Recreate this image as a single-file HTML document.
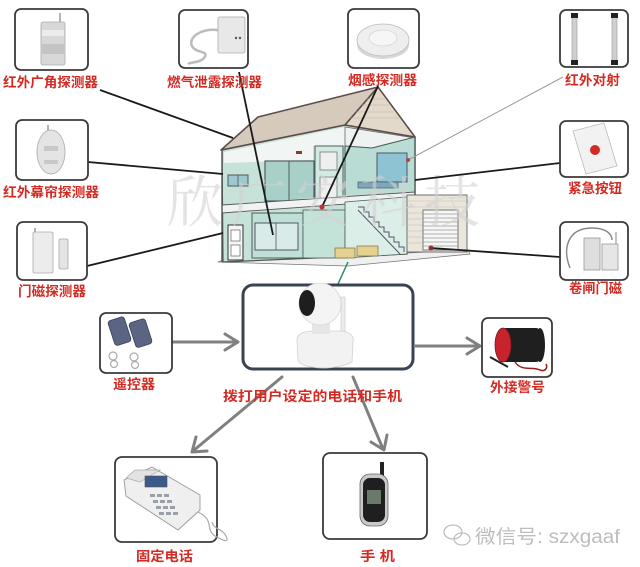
<!DOCTYPE html>
<html><head><meta charset="utf-8"><style>
html,body{margin:0;padding:0;background:#fff;}
svg{display:block;}
.lbl{font-family:"Liberation Sans","Noto Sans CJK SC",sans-serif;font-weight:bold;fill:#d42a22;font-size:13.5px;}
.box{fill:#fff;stroke:#3a3a3a;stroke-width:1.8;}
.ln{stroke:#1a1a1a;stroke-width:1.8;fill:none;}
.ar{stroke:#808080;stroke-width:3;fill:none;stroke-linecap:round;stroke-linejoin:round;}
</style></head><body>
<svg width="640" height="567" viewBox="0 0 640 567" xmlns="http://www.w3.org/2000/svg">
<rect width="640" height="567" fill="#fff"/>

<!-- ========== HOUSE ========== -->
<!-- ground -->
<polygon points="218,262 348,266 470,254 468,250 407,253 223,260" fill="#eef1f0" stroke="#777" stroke-width="0.8"/>
<!-- main body -->
<polygon points="222,150 345,125 415,137 415,195 407,195 407,254 223,262" fill="#c6e2d9" stroke="#4d5555" stroke-width="1.2"/>
<!-- under roof white area -->
<polygon points="224,152 345,127 345,146 313,146 313,160 224,163" fill="#f1f5f3"/>
<polygon points="345,127 415,138 372,148 345,146" fill="#eef2f0" stroke="#666" stroke-width="0.8"/>
<!-- upper left window -->
<rect x="228" y="175" width="20" height="11" fill="#9cc8d0" stroke="#4d5a5a" stroke-width="1"/>
<line x1="238" y1="175" x2="238" y2="186" stroke="#4d5a5a" stroke-width="0.8"/>
<!-- sliding doors -->
<rect x="265" y="161" width="49" height="40" fill="#a9cfc9" stroke="#4f6060" stroke-width="1.2"/>
<line x1="289" y1="161" x2="289" y2="201" stroke="#4f6060" stroke-width="1"/>
<rect x="296" y="151" width="6" height="3" fill="#8a3a30"/>
<!-- upper door -->
<rect x="315" y="146" width="28" height="57" fill="#d1ebe3" stroke="#4f5b5b" stroke-width="1"/>
<rect x="320" y="152" width="17" height="18" fill="#eef0ef" stroke="#777" stroke-width="0.8"/>
<rect x="320" y="177" width="17" height="21" fill="#eef0ef" stroke="#777" stroke-width="0.8"/>
<!-- right upper room -->
<polygon points="345,146 372,148 415,137 415,195 345,199" fill="#b9ddd4" stroke="#4f5b5b" stroke-width="1"/>
<rect x="377" y="153" width="30" height="29" fill="#8dc3d2" stroke="#4a5a66" stroke-width="1"/>
<rect x="358" y="182" width="40" height="6" fill="#7fa7b8" stroke="#4a5a66" stroke-width="0.7"/>
<!-- slab -->
<polygon points="222,205 415,192 415,199 222,213" fill="#f0f3f2" stroke="#555" stroke-width="0.9"/>
<!-- ground floor -->
<rect x="252" y="213" width="51" height="45" fill="#bfe0d6" stroke="#4f5b5b" stroke-width="1"/>
<rect x="255" y="223" width="43" height="27" fill="#d9ebe8" stroke="#556" stroke-width="1"/>
<line x1="276" y1="223" x2="276" y2="250" stroke="#556" stroke-width="0.8"/>
<rect x="303" y="210" width="42" height="48" fill="#c3e3d9" stroke="#4f5b5b" stroke-width="0.8"/>
<rect x="228" y="225" width="15" height="35" fill="#f5f5f5" stroke="#333" stroke-width="1"/>
<rect x="231" y="230" width="9" height="11" fill="#fff" stroke="#666" stroke-width="0.7"/>
<rect x="231" y="245" width="9" height="11" fill="#fff" stroke="#666" stroke-width="0.7"/>
<!-- stair area -->
<polygon points="345,202 407,197 407,254 345,258" fill="#dbeee8" stroke="#4f5b5b" stroke-width="0.8"/>
<polyline points="358,207 364,207 364,212 369,212 369,217 374,217 374,222 379,222 379,227 384,227 384,232 389,232 389,237 394,237 394,242 399,242 399,247 404,247 404,252" fill="none" stroke="#556" stroke-width="1"/>
<line x1="358" y1="210" x2="400" y2="254" stroke="#556" stroke-width="1"/>
<!-- garage -->
<rect x="407" y="195" width="60" height="57" fill="#ebe6dc" stroke="#6d6d6d" stroke-width="1"/>
<g stroke="#c9c2b3" stroke-width="0.6">
<line x1="407" y1="201" x2="467" y2="201"/><line x1="407" y1="207" x2="467" y2="207"/>
<line x1="407" y1="213" x2="423" y2="213"/><line x1="407" y1="219" x2="423" y2="219"/>
<line x1="407" y1="225" x2="423" y2="225"/><line x1="407" y1="231" x2="423" y2="231"/>
<line x1="407" y1="237" x2="423" y2="237"/><line x1="407" y1="243" x2="423" y2="243"/>
</g>
<rect x="423" y="210" width="35" height="40" fill="#f6f6f6" stroke="#777" stroke-width="1"/>
<g stroke="#999" stroke-width="0.8">
<line x1="423" y1="214" x2="458" y2="214"/><line x1="423" y1="218" x2="458" y2="218"/>
<line x1="423" y1="222" x2="458" y2="222"/><line x1="423" y1="226" x2="458" y2="226"/>
<line x1="423" y1="230" x2="458" y2="230"/><line x1="423" y1="234" x2="458" y2="234"/>
<line x1="423" y1="238" x2="458" y2="238"/><line x1="423" y1="242" x2="458" y2="242"/>
<line x1="423" y1="246" x2="458" y2="246"/>
</g>
<!-- sofas -->
<rect x="335" y="248" width="20" height="10" fill="#e3d28f" stroke="#8a7a40" stroke-width="0.8"/>
<rect x="357" y="246" width="21" height="10" fill="#e3d28f" stroke="#8a7a40" stroke-width="0.8"/>
<!-- roof -->
<polygon points="221,150 258,117 378,87 345,125" fill="#d5cabb" stroke="#5d4c4c" stroke-width="1.6" stroke-linejoin="round"/>
<polygon points="345,125 378,87 415,137" fill="#e2d9cb" stroke="#5d4c4c" stroke-width="1.6" stroke-linejoin="round"/>
<g stroke="#c4b8a6" stroke-width="0.6">
<line x1="356" y1="112" x2="394" y2="112"/><line x1="351" y1="118" x2="399" y2="118"/>
<line x1="362" y1="105" x2="389" y2="105"/><line x1="367" y1="99" x2="385" y2="99"/>
</g>
<line x1="222" y1="150" x2="222" y2="262" stroke="#4d5555" stroke-width="1.4"/>
<line x1="415" y1="137" x2="415" y2="195" stroke="#4d5555" stroke-width="1.4"/>

<!-- watermark -->
<text x="167" y="222" font-family="'Noto Serif CJK SC','Liberation Serif',serif" font-size="56" fill="#d2d2d2" fill-opacity="0.6" textLength="313" lengthAdjust="spacing">欣广安科技</text>

<!-- ========== CONNECTOR LINES ========== -->
<line class="ln" x1="100" y1="90" x2="233" y2="138"/>
<line class="ln" x1="239" y1="72" x2="273" y2="235"/>
<line class="ln" x1="88" y1="162" x2="223" y2="174"/>
<line class="ln" x1="87" y1="266" x2="223" y2="233"/>
<line class="ln" x1="378" y1="86" x2="322" y2="207" stroke-width="2"/>
<line x1="563" y1="77" x2="408" y2="160" stroke="#9a9a9a" stroke-width="1"/>
<line class="ln" x1="560" y1="163" x2="415" y2="180" stroke-width="2"/>
<line class="ln" x1="560" y1="257" x2="431" y2="248"/>
<line x1="348" y1="262" x2="338" y2="284" stroke="#2a8a6a" stroke-width="1.5"/>
<circle cx="322" cy="207" r="2.5" fill="#c0303a"/>
<circle cx="431" cy="248" r="2.5" fill="#8a3030"/>
<circle cx="408" cy="160" r="2" fill="#b04040"/>

<!-- ========== TOP / SIDE BOXES ========== -->
<!-- 红外广角 -->
<rect class="box" x="15" y="9" width="73" height="61" rx="6"/>
<line x1="60" y1="13" x2="60" y2="23" stroke="#999" stroke-width="1.5"/>
<rect x="41" y="22" width="24" height="43" rx="2" fill="#d8d8d8" stroke="#aaa" stroke-width="0.8"/>
<rect x="42" y="30" width="22" height="6" fill="#ececec"/>
<rect x="42" y="44" width="22" height="10" fill="#c4c4c4"/>
<!-- 燃气 -->
<rect class="box" x="179" y="10" width="69" height="58" rx="6"/>
<path d="M218,30 C200,28 188,38 192,46 C196,54 210,50 204,58 C200,63 190,62 188,64" fill="none" stroke="#bbb" stroke-width="2.5"/>
<rect x="218" y="17" width="27" height="36" rx="2" fill="#e8e8e8" stroke="#aaa" stroke-width="0.8"/>
<circle cx="236" cy="38" r="1.2" fill="#555"/><circle cx="240" cy="38" r="1.2" fill="#555"/>
<!-- 烟感 -->
<rect class="box" x="348" y="9" width="71" height="59" rx="6"/>
<ellipse cx="383" cy="45" rx="26" ry="14" fill="#d8d8d8"/>
<ellipse cx="383" cy="40" rx="26" ry="16" fill="#eeeeee" stroke="#bbb" stroke-width="0.8"/>
<ellipse cx="383" cy="38" rx="14" ry="8" fill="#f6f6f6" stroke="#ccc" stroke-width="0.6"/>
<!-- 红外对射 -->
<rect class="box" x="560" y="10" width="68" height="57" rx="6"/>
<rect x="572" y="14" width="5" height="50" fill="#cfcfcf" stroke="#999" stroke-width="0.6"/>
<rect x="571" y="13" width="7" height="5" fill="#222"/><rect x="571" y="60" width="7" height="5" fill="#222"/>
<rect x="612" y="14" width="5" height="50" fill="#cfcfcf" stroke="#999" stroke-width="0.6"/>
<rect x="611" y="13" width="7" height="5" fill="#222"/><rect x="611" y="60" width="7" height="5" fill="#222"/>
<!-- 红外幕帘 -->
<rect class="box" x="16" y="120" width="72" height="60" rx="6"/>
<line x1="48" y1="125" x2="48" y2="132" stroke="#999" stroke-width="1.5"/>
<ellipse cx="51" cy="152" rx="14" ry="22" fill="#e4e4e4" stroke="#aaa" stroke-width="0.8"/>
<rect x="44" y="146" width="14" height="5" fill="#c8c8c8"/><rect x="44" y="160" width="14" height="4" fill="#c8c8c8"/>
<!-- 紧急按钮 -->
<rect class="box" x="560" y="121" width="68" height="56" rx="6"/>
<polygon points="573,131 604,123 617,166 586,174" fill="#f2f2f2" stroke="#bbb" stroke-width="0.8"/>
<circle cx="595" cy="150" r="5" fill="#d42a22"/>
<!-- 门磁 -->
<rect class="box" x="17" y="222" width="70" height="58" rx="6"/>
<line x1="35" y1="228" x2="35" y2="236" stroke="#999" stroke-width="1.5"/>
<rect x="33" y="232" width="20" height="41" rx="1.5" fill="#ececec" stroke="#aaa" stroke-width="0.8"/>
<rect x="59" y="239" width="9" height="30" rx="1.5" fill="#e4e4e4" stroke="#aaa" stroke-width="0.8"/>
<!-- 卷闸门磁 -->
<rect class="box" x="560" y="222" width="68" height="58" rx="6"/>
<path d="M570,268 C562,248 568,228 592,228 C606,228 612,234 612,240" fill="none" stroke="#888" stroke-width="1.5"/>
<rect x="584" y="238" width="16" height="32" fill="#dedede" stroke="#999" stroke-width="0.8"/>
<rect x="602" y="244" width="16" height="26" fill="#e6e6e6" stroke="#999" stroke-width="0.8"/>
<line x1="616" y1="232" x2="616" y2="244" stroke="#999" stroke-width="1.2"/>

<!-- ========== CENTER ========== -->
<rect x="243" y="285" width="170" height="84" rx="10" fill="#fff" stroke="#3a4450" stroke-width="3"/>
<rect x="341" y="297" width="4" height="46" fill="#ececec" stroke="#c8c8c8" stroke-width="0.6"/>
<path d="M297,340 Q297,332 312,331 L340,331 Q355,332 353,342 L352,362 Q340,368 322,368 Q300,367 298,360 Z" fill="#f2f2f2" stroke="#d0d0d0" stroke-width="0.8"/>
<rect x="312" y="320" width="18" height="14" fill="#e6e6e6"/>
<circle cx="320" cy="304" r="21" fill="#f4f4f4" stroke="#d6d6d6" stroke-width="0.8"/>
<ellipse cx="307" cy="303" rx="8" ry="13" fill="#1e1e1e"/>

<!-- arrows -->
<line class="ar" x1="173" y1="342" x2="237" y2="342"/>
<polyline class="ar" points="225,334 238,342 225,350"/>
<line class="ar" x1="415" y1="346" x2="479" y2="346"/>
<polyline class="ar" points="467,338 480,346 467,354"/>
<line class="ar" x1="282" y1="377" x2="193" y2="451"/>
<polyline class="ar" points="207,451 192,452 196,437"/>
<line class="ar" x1="353" y1="377" x2="383" y2="449"/>
<polyline class="ar" points="387,435 384,450 371,442"/>

<!-- 遥控器 -->
<rect class="box" x="100" y="313" width="72" height="60" rx="6"/>
<g transform="rotate(-18 120 331)"><rect x="111" y="318" width="17" height="26" rx="3" fill="#5c6483" stroke="#3c4058" stroke-width="0.8"/></g>
<g transform="rotate(-18 141 333)"><rect x="132" y="320" width="17" height="26" rx="3" fill="#5c6483" stroke="#3c4058" stroke-width="0.8"/></g>
<circle cx="113" cy="356" r="4" fill="none" stroke="#aaa" stroke-width="1.2"/><circle cx="114" cy="364" r="3.5" fill="none" stroke="#aaa" stroke-width="1.2"/>
<circle cx="134" cy="357" r="4" fill="none" stroke="#aaa" stroke-width="1.2"/><circle cx="135" cy="365" r="3.5" fill="none" stroke="#aaa" stroke-width="1.2"/>
<!-- 外接警号 -->
<rect class="box" x="482" y="318" width="70" height="59" rx="6"/>
<rect x="502" y="328" width="38" height="34" rx="4" fill="#1f1f1f"/>
<ellipse cx="540" cy="345" rx="5" ry="17" fill="#1f1f1f"/>
<ellipse cx="503" cy="345" rx="8" ry="17" fill="#c8232c" stroke="#7a1a1a" stroke-width="0.8"/>
<path d="M515,362 C522,372 532,366 540,370 C545,372 548,368 546,364" fill="none" stroke="#9a1a1a" stroke-width="1.5"/>
<line x1="490" y1="357" x2="508" y2="367" stroke="#222" stroke-width="2"/>

<!-- 固定电话 -->
<rect class="box" x="115" y="457" width="102" height="85" rx="7"/>
<polygon points="124,480 152,467 200,495 200,510 178,530 126,496" fill="#efefef" stroke="#9a9a9a" stroke-width="0.9"/>
<polygon points="126,478 135,470 160,470 140,482" fill="#e2e2e2" stroke="#aaa" stroke-width="0.7"/>
<rect x="145" y="476" width="22" height="11" fill="#3a5a8a" stroke="#555" stroke-width="0.6"/>
<g fill="#9aa0a8">
<rect x="150" y="494" width="5" height="3"/><rect x="157" y="494" width="5" height="3"/><rect x="164" y="494" width="5" height="3"/>
<rect x="153" y="500" width="5" height="3"/><rect x="160" y="500" width="5" height="3"/><rect x="167" y="500" width="5" height="3"/>
<rect x="156" y="506" width="5" height="3"/><rect x="163" y="506" width="5" height="3"/><rect x="170" y="506" width="5" height="3"/>
<rect x="159" y="512" width="5" height="3"/><rect x="166" y="512" width="5" height="3"/><rect x="173" y="512" width="5" height="3"/>
</g>
<path d="M198,512 C215,520 205,530 215,536 C222,540 230,544 226,536 C222,528 214,530 212,522" fill="none" stroke="#aaa" stroke-width="1.2"/>
<!-- 手机 -->
<rect class="box" x="323" y="453" width="104" height="86" rx="7"/>
<rect x="380" y="462" width="4" height="14" fill="#222"/>
<rect x="360" y="474" width="28" height="52" rx="10" fill="#c9c9c9" stroke="#666" stroke-width="0.8"/>
<rect x="363" y="478" width="22" height="44" rx="7" fill="#1f1f1f"/>
<rect x="367" y="490" width="14" height="14" fill="#6a7a6a"/>

<!-- ========== LABELS ========== -->
<text class="lbl" x="3" y="87" textLength="95" lengthAdjust="spacingAndGlyphs">红外广角探测器</text>
<text class="lbl" x="167" y="87" textLength="95" lengthAdjust="spacingAndGlyphs">燃气泄露探测器</text>
<text class="lbl" x="348" y="85" textLength="69" lengthAdjust="spacingAndGlyphs">烟感探测器</text>
<text class="lbl" x="565" y="85" textLength="55" lengthAdjust="spacingAndGlyphs">红外对射</text>
<text class="lbl" x="3" y="197" textLength="96" lengthAdjust="spacingAndGlyphs">红外幕帘探测器</text>
<text class="lbl" x="568" y="193" textLength="54" lengthAdjust="spacingAndGlyphs">紧急按钮</text>
<text class="lbl" x="18" y="296" textLength="68" lengthAdjust="spacingAndGlyphs">门磁探测器</text>
<text class="lbl" x="569" y="293" textLength="53" lengthAdjust="spacingAndGlyphs">卷闸门磁</text>
<text class="lbl" x="113" y="389" textLength="42" lengthAdjust="spacingAndGlyphs">遥控器</text>
<text class="lbl" x="490" y="392" textLength="55" lengthAdjust="spacingAndGlyphs">外接警号</text>
<text class="lbl" x="223" y="401" font-size="14.5" textLength="179" lengthAdjust="spacingAndGlyphs">拨打用户设定的电话和手机</text>
<text class="lbl" x="136" y="561" textLength="57" lengthAdjust="spacingAndGlyphs">固定电话</text>
<text class="lbl" x="360" y="561" textLength="35" lengthAdjust="spacingAndGlyphs">手 机</text>

<!-- wechat watermark -->
<g fill="none" stroke="#c0c0c0" stroke-width="1.3">
<ellipse cx="453" cy="532" rx="9" ry="7"/>
<ellipse cx="462" cy="539" rx="8" ry="6"/>
</g>
<text x="475" y="543" font-family="'Liberation Sans','Noto Sans CJK SC',sans-serif" font-size="19" fill="#bdbdbd" textLength="145" lengthAdjust="spacingAndGlyphs">微信号: szxgaaf</text>
</svg>
</body></html>
